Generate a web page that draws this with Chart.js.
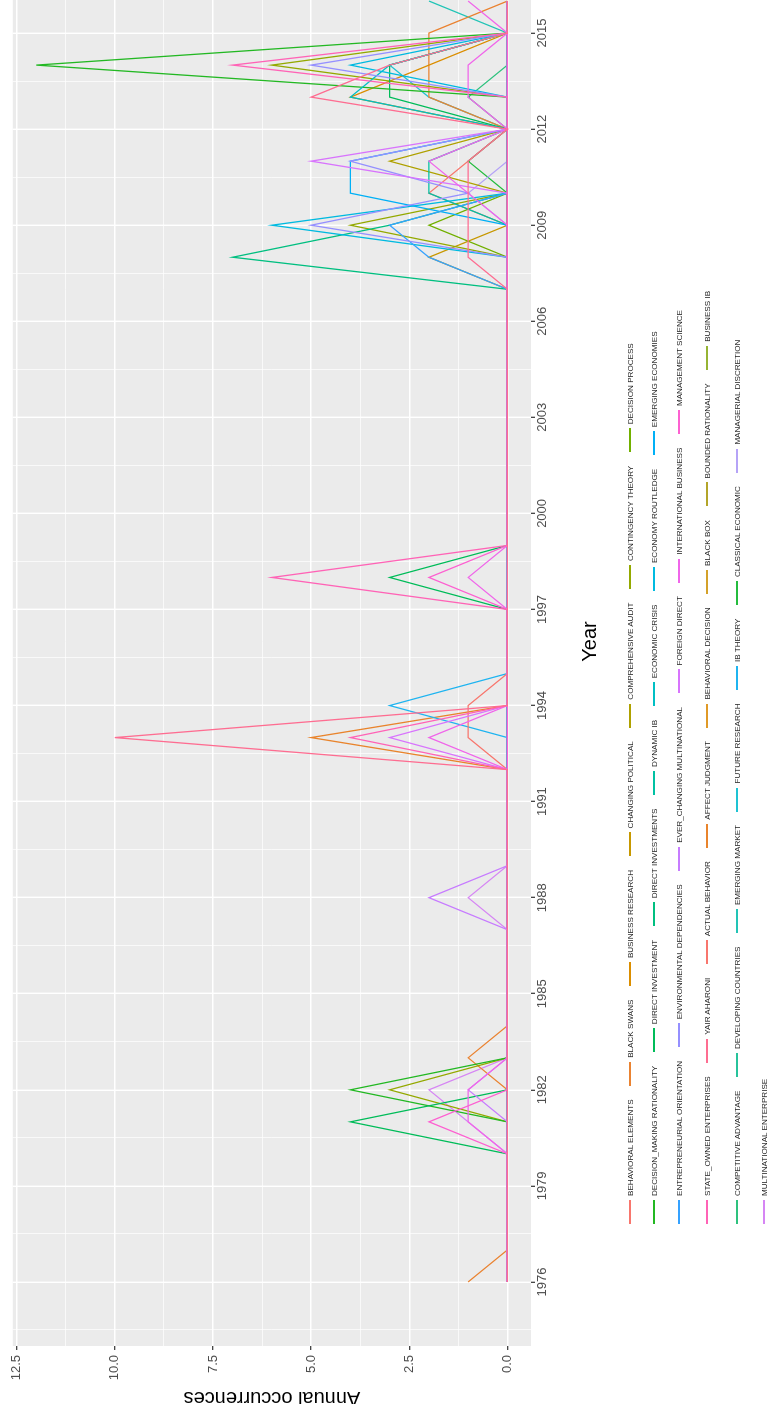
<!DOCTYPE html>
<html>
<head>
<meta charset="utf-8">
<script src="https://cdn.jsdelivr.net/npm/chart.js@4.4.1/dist/chart.umd.min.js"></script>
<style>
html,body{margin:0;padding:0;width:770px;height:1404px;overflow:hidden;background:#fff;}
#wrap{position:absolute;left:0;top:0;width:1490px;height:770px;transform-origin:0 0;transform:translateY(1414px) rotate(-90deg);background:#fff;}
#c{position:absolute;left:0;top:0;}
.lrow{position:absolute;left:190px;height:12px;display:flex;align-items:center;white-space:nowrap;font-family:'Liberation Sans',Arial,sans-serif;font-size:8.1px;color:#1a1a1a;}
.key{display:inline-block;width:24px;height:1.4px;margin-right:4px;}
.lab{margin-right:13.5px;}
</style>
</head>
<body>
<div id="wrap"><canvas id="c" width="1490" height="770"></canvas><div id="legend"></div></div>
<script>
// ---- data ----
const years = [1976,1977,1978,1979,1980,1981,1982,1983,1984,1985,
               1986,1987,1988,1989,1990,1991,1992,1993,1994,1995,
               1996,1997,1998,1999,2000,2001,2002,2003,2004,2005,
               2006,2007,2008,2009,2010,2011,2012,2013,2014,2015,2016];

const behavioralElements       = [0,0,0,0,0,0,0,0,0,0, 0,0,0,0,0,0,0,1,1,0, 0,0,0,0,0,0,0,0,0,0, 0,0,0,0,0,0,0,0,0,0,0];
const blackSwans               = [1,0,0,0,0,0,0,1,0,0, 0,0,0,0,0,0,0,0,0,0, 0,0,0,0,0,0,0,0,0,0, 0,0,0,0,0,0,0,2,2,2,0];
const businessResearch         = [0,0,0,0,0,0,0,0,0,0, 0,0,0,0,0,0,0,0,0,0, 0,0,0,0,0,0,0,0,0,0, 0,0,0,0,0,0,0,4,2,0,0];
const changingPolitical        = [0,0,0,0,0,0,0,0,0,0, 0,0,0,0,0,0,0,0,0,0, 0,0,0,0,0,0,0,0,0,0, 0,0,2,0,0,0,0,0,0,0,0];
const comprehensiveAudit       = [0,0,0,0,0,0,0,0,0,0, 0,0,0,0,0,0,0,0,0,0, 0,0,0,0,0,0,0,0,0,0, 0,0,0,0,0,3,0,0,0,0,0];
const contingencyTheory        = [0,0,0,0,0,0,3,0,0,0, 0,0,0,0,0,0,0,0,0,0, 0,0,0,0,0,0,0,0,0,0, 0,0,0,4,0,0,0,0,6,0,0];
const decisionProcess          = [0,0,0,0,0,0,0,0,0,0, 0,0,0,0,0,0,0,0,0,0, 0,0,0,0,0,0,0,0,0,0, 0,0,0,2,0,0,0,0,0,0,0];
const decisionMakingRationality= [0,0,0,0,0,0,4,0,0,0, 0,0,0,0,0,0,0,0,0,0, 0,0,0,0,0,0,0,0,0,0, 0,0,0,0,0,0,0,0,12,0,0];
const directInvestment         = [0,0,0,0,0,4,0,0,0,0, 0,0,0,0,0,0,0,0,0,0, 0,0,3,0,0,0,0,0,0,0, 0,0,0,0,0,0,0,3,3,0,0];
const directInvestments        = [0,0,0,0,0,0,0,0,0,0, 0,0,0,0,0,0,0,0,0,0, 0,0,0,0,0,0,0,0,0,0, 0,0,7,3,0,0,0,0,0,0,0];
const dynamicIB                = [0,0,0,0,0,0,0,0,0,0, 0,0,0,0,0,0,0,0,0,0, 0,0,0,0,0,0,0,0,0,0, 0,0,0,0,2,2,0,0,0,0,0];
const economicCrisis           = [0,0,0,0,0,0,0,0,0,0, 0,0,0,0,0,0,0,0,0,0, 0,0,0,0,0,0,0,0,0,0, 0,0,0,0,0,0,0,4,3,0,0];
const economyRoutledge         = [0,0,0,0,0,0,0,0,0,0, 0,0,0,0,0,0,0,0,0,0, 0,0,0,0,0,0,0,0,0,0, 0,0,0,6,0,0,0,0,4,0,0];
const emergingEconomies        = [0,0,0,0,0,0,0,0,0,0, 0,0,0,0,0,0,0,0,0,0, 0,0,0,0,0,0,0,0,0,0, 0,0,0,0,4,4,0,0,0,0,0];
const entrepreneurialOrient    = [0,0,0,0,0,0,0,0,0,0, 0,0,0,0,0,0,0,0,0,0, 0,0,0,0,0,0,0,0,0,0, 0,0,2,3,0,0,0,0,0,0,0];
const environmentalDependencies= [0,0,0,0,0,0,0,0,0,0, 0,0,0,0,0,0,0,0,0,0, 0,0,0,0,0,0,0,0,0,0, 0,0,0,5,1,4,0,0,5,0,0];
const everChangingMultinational= [0,0,0,0,0,0,1,0,0,0, 0,0,2,0,0,0,0,0,0,0, 0,0,0,0,0,0,0,0,0,0, 0,0,0,0,0,0,0,0,0,0,0];
const foreignDirect            = [0,0,0,0,0,0,0,0,0,0, 0,0,0,0,0,0,0,3,0,0, 0,0,0,0,0,0,0,0,0,0, 0,0,0,0,0,5,0,0,0,0,0];
const internationalBusiness    = [0,0,0,0,0,1,1,0,0,0, 0,0,0,0,0,0,0,2,0,0, 0,0,1,0,0,0,0,0,0,0, 0,0,0,0,1,2,0,1,1,0,1];
const managementScience        = [0,0,0,0,0,2,0,0,0,0, 0,0,0,0,0,0,0,0,0,0, 0,0,2,0,0,0,0,0,0,0, 0,0,0,0,0,0,0,0,0,0,0];
const stateOwnedEnterprises    = [0,0,0,0,0,0,0,0,0,0, 0,0,0,0,0,0,0,4,0,0, 0,0,6,0,0,0,0,0,0,0, 0,0,0,0,0,0,0,0,7,0,0];
const yairAharoni              = [0,0,0,0,0,0,0,0,0,0, 0,0,0,0,0,0,0,10,0,0, 0,0,0,0,0,0,0,0,0,0, 0,0,1,1,1,1,0,5,3,0,0];
const actualBehavior           = [0,0,0,0,0,0,0,0,0,0, 0,0,0,0,0,0,0,0,0,0, 0,0,0,0,0,0,0,0,0,0, 0,0,0,0,2,1,0,0,0,0,0];
const affectJudgment           = [0,0,0,0,0,0,0,0,0,0, 0,0,0,0,0,0,0,5,0,0, 0,0,0,0,0,0,0,0,0,0, 0,0,0,0,0,0,0,0,0,0,0];
const behavioralDecision       = [0,0,0,0,0,0,0,0,0,0, 0,0,0,0,0,0,0,0,0,0, 0,0,0,0,0,0,0,0,0,0, 0,0,0,0,0,0,0,0,0,0,0];
const blackBox                 = [0,0,0,0,0,0,0,0,0,0, 0,0,0,0,0,0,0,0,0,0, 0,0,0,0,0,0,0,0,0,0, 0,0,0,0,0,0,0,0,0,0,0];
const boundedRationality       = [0,0,0,0,0,0,0,0,0,0, 0,0,0,0,0,0,0,0,0,0, 0,0,0,0,0,0,0,0,0,0, 0,0,0,0,0,0,0,0,0,0,0];
const businessIB               = [0,0,0,0,0,0,0,0,0,0, 0,0,0,0,0,0,0,0,0,0, 0,0,0,0,0,0,0,0,0,0, 0,0,0,0,0,0,0,0,0,0,0];
const competitiveAdvantage     = [0,0,0,0,0,0,0,0,0,0, 0,0,0,0,0,0,0,0,0,0, 0,0,0,0,0,0,0,0,0,0, 0,0,0,0,0,0,0,1,0,0,0];
const developingCountries      = [0,0,0,0,0,0,0,0,0,0, 0,0,0,0,0,0,0,0,0,0, 0,0,0,0,0,0,0,0,0,0, 0,0,0,0,0,0,0,0,0,0,0];
const emergingMarket           = [0,0,0,0,0,0,0,0,0,0, 0,0,0,0,0,0,0,0,0,0, 0,0,0,0,0,0,0,0,0,0, 0,0,0,0,0,0,0,0,0,0,2];
const futureResearch           = [0,0,0,0,0,0,0,0,0,0, 0,0,0,0,0,0,0,0,0,0, 0,0,0,0,0,0,0,0,0,0, 0,0,0,0,0,0,0,2,3,0,0];
const ibTheory                 = [0,0,0,0,0,0,0,0,0,0, 0,0,0,0,0,0,0,0,3,0, 0,0,0,0,0,0,0,0,0,0, 0,0,0,0,0,0,0,0,0,0,0];
const classicalEconomic        = [0,0,0,0,0,0,0,0,0,0, 0,0,0,0,0,0,0,0,0,0, 0,0,0,0,0,0,0,0,0,0, 0,0,0,0,0,1,0,0,0,0,0];
const managerialDiscretion     = [0,0,0,0,0,0,0,0,0,0, 0,0,0,0,0,0,0,0,0,0, 0,0,0,0,0,0,0,0,0,0, 0,0,0,0,1,0,0,0,0,0,0];
const multinationalEnterprise  = [0,0,0,0,0,1,2,0,0,0, 0,0,1,0,0,0,0,0,0,0, 0,0,0,0,0,0,0,0,0,0, 0,0,0,0,0,0,0,0,0,0,0];

const seriesNames = [
  'BEHAVIORAL ELEMENTS','BLACK SWANS','BUSINESS RESEARCH','CHANGING POLITICAL','COMPREHENSIVE AUDIT','CONTINGENCY THEORY','DECISION PROCESS',
  'DECISION_MAKING RATIONALITY','DIRECT INVESTMENT','DIRECT INVESTMENTS','DYNAMIC IB','ECONOMIC CRISIS','ECONOMY ROUTLEDGE','EMERGING ECONOMIES',
  'ENTREPRENEURIAL ORIENTATION','ENVIRONMENTAL DEPENDENCIES','EVER_CHANGING MULTINATIONAL','FOREIGN DIRECT','INTERNATIONAL BUSINESS','MANAGEMENT SCIENCE',
  'STATE_OWNED ENTERPRISES','YAIR AHARONI','ACTUAL BEHAVIOR','AFFECT JUDGMENT','BEHAVIORAL DECISION','BLACK BOX','BOUNDED RATIONALITY','BUSINESS IB',
  'COMPETITIVE ADVANTAGE','DEVELOPING COUNTRIES','EMERGING MARKET','FUTURE RESEARCH','IB THEORY','CLASSICAL ECONOMIC','MANAGERIAL DISCRETION',
  'MULTINATIONAL ENTERPRISE'
];
const seriesValues = [
  behavioralElements, blackSwans, businessResearch, changingPolitical, comprehensiveAudit, contingencyTheory, decisionProcess,
  decisionMakingRationality, directInvestment, directInvestments, dynamicIB, economicCrisis, economyRoutledge, emergingEconomies,
  entrepreneurialOrient, environmentalDependencies, everChangingMultinational, foreignDirect, internationalBusiness, managementScience,
  stateOwnedEnterprises, yairAharoni, actualBehavior, affectJudgment, behavioralDecision, blackBox, boundedRationality, businessIB,
  competitiveAdvantage, developingCountries, emergingMarket, futureResearch, ibTheory, classicalEconomic, managerialDiscretion,
  multinationalEnterprise
];
const seriesColors = [
  '#F8766D','#EA8331','#DB8E00','#C79800','#AFA100','#94A900','#72B000',
  '#23B823','#00BC59','#00BF80','#00C1A3','#00BFC4','#00BAE0','#00B0F6',
  '#35A2FF','#9590FF','#C77CFF','#D874FD','#F066EA','#FD61D1',
  '#FF63B6','#FE6D91','#F8766D','#E9842C','#E09A27','#D4A12A','#B3A52A','#96B434',
  '#2EC27E','#27C39B','#22C4B6','#1EC3D3','#1FB4F0','#24BC3E','#B5A3F7',
  '#D686F4'
];
const legendRowCounts = [7,7,6,8,7,1];

const xMajor = [1976,1979,1982,1985,1988,1991,1994,1997,2000,2003,2006,2009,2012,2015];
const xMinor = [1974.5,1977.5,1980.5,1983.5,1986.5,1989.5,1992.5,1995.5,1998.5,2001.5,2004.5,2007.5,2010.5,2013.5,2016.5];
const yMajor = [0,2.5,5,7.5,10,12.5];
const yTickLabels = ['0.0','2.5','5.0','7.5','10.0','12.5'];
const yMinor = [1.25,3.75,6.25,8.75,11.25];

// ---- chart ----
const FONT = "'Liberation Sans', Arial, sans-serif";
Chart.defaults.font.family = FONT;

const drawOrder = [22,23,24,25,26,27,28,29,30,31,32,33,34,35, 0,1,2,3,4,5,6,7,8,9,10,11,12,13,14,15,16,17,18,19,20,21];
const datasets = seriesNames.map((name, i) => ({
  label: name,
  data: years.map((yr, k) => ({x: yr, y: seriesValues[i][k]})),
  borderColor: seriesColors[i],
  backgroundColor: seriesColors[i],
  borderWidth: 1.3,
  pointRadius: 0,
  fill: false,
  tension: 0,
  order: 35 - drawOrder.indexOf(i)
}));

const panelBg = {
  id: 'panelBg',
  beforeDraw(chart) {
    const {ctx, chartArea: a} = chart;
    ctx.save();
    ctx.fillStyle = '#EBEBEB';
    ctx.fillRect(a.left, a.top, a.right - a.left, a.bottom - a.top);
    ctx.restore();
  }
};

const isMajorX = v => xMajor.includes(v);
const isMajorY = v => yMajor.includes(v);

new Chart(document.getElementById('c'), {
  type: 'line',
  data: {datasets},
  plugins: [panelBg],
  options: {
    responsive: false,
    animation: false,
    devicePixelRatio: 1,
    layout: {padding: {left: 0, top: 12, right: 13, bottom: 159}},
    plugins: {legend: {display: false}, tooltip: {enabled: false}},
    scales: {
      x: {
        type: 'linear', min: 1974, max: 2018,
        afterBuildTicks: s => { s.ticks = xMinor.concat(xMajor).sort((a,b)=>a-b).map(v => ({value: v})); },
        afterFit: s => { s.height = 80; },
        ticks: {
          autoSkip: false, maxRotation: 0, minRotation: 0, padding: 0,
          color: '#4D4D4D', font: {size: 13, family: FONT},
          callback: v => isMajorX(v) ? String(v) : ''
        },
        grid: {
          color: '#FFFFFF',
          lineWidth: c => (c.tick && isMajorX(c.tick.value)) ? 1.4 : 0.7,
          tickLength: 4,
          tickColor: c => (c.tick && isMajorX(c.tick.value)) ? '#333333' : 'rgba(0,0,0,0)',
          tickWidth: 1.2
        },
        border: {display: false},
        title: {display: true, text: 'Year', color: '#000', font: {size: 20, family: FONT}, padding: {top: 0, bottom: 9}}
      },
      y: {
        type: 'linear', min: -0.6, max: 12.6,
        afterBuildTicks: s => { s.ticks = yMajor.concat(yMinor).sort((a,b)=>a-b).map(v => ({value: v})); },
        afterFit: s => { s.width = 68; },
        ticks: {
          autoSkip: false, padding: 5,
          color: '#4D4D4D', font: {size: 13, family: FONT},
          callback: v => isMajorY(v) ? yTickLabels[yMajor.indexOf(v)] : ''
        },
        grid: {
          color: '#FFFFFF',
          lineWidth: c => (c.tick && isMajorY(c.tick.value)) ? 1.4 : 0.7,
          tickLength: 4,
          tickColor: c => (c.tick && isMajorY(c.tick.value)) ? '#333333' : 'rgba(0,0,0,0)',
          tickWidth: 1.2
        },
        border: {display: false},
        title: {display: true, text: 'Annual occurrences', color: '#000', font: {size: 20, family: FONT}, padding: {top: 4, bottom: 0}}
      }
    }
  }
});

// ---- legend (HTML, rotated with the chart) ----
const rowCenters = [630, 654, 679, 707, 737, 764];
const legend = document.getElementById('legend');
let idx = 0;
legendRowCounts.forEach((count, r) => {
  const row = document.createElement('div');
  row.className = 'lrow';
  row.style.top = (rowCenters[r] - 6) + 'px';
  for (let j = 0; j < count; j++, idx++) {
    const key = document.createElement('span');
    key.className = 'key';
    key.style.background = seriesColors[idx];
    const lab = document.createElement('span');
    lab.className = 'lab';
    lab.textContent = seriesNames[idx];
    row.appendChild(key);
    row.appendChild(lab);
  }
  legend.appendChild(row);
});
</script>
</body>
</html>
